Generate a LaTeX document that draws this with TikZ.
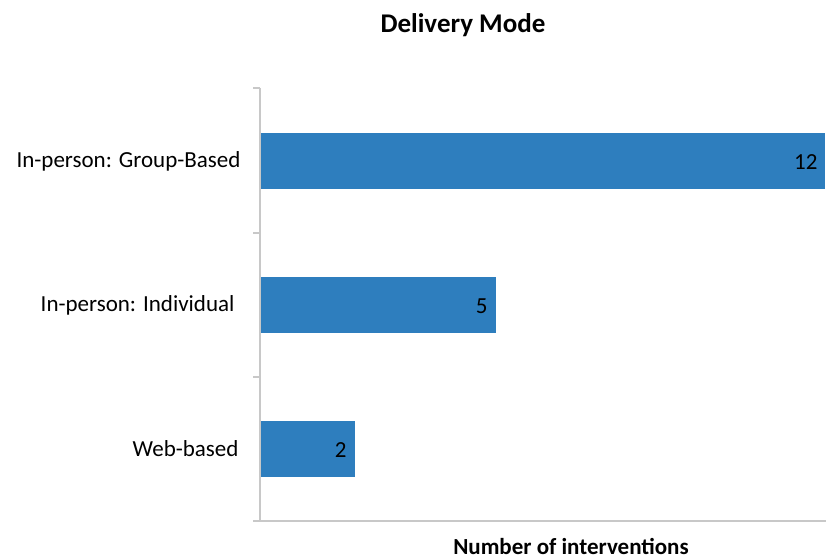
\documentclass[tikz,border=0pt]{standalone}
\usepackage{fontspec}
\setmainfont{Carlito}
\usetikzlibrary{positioning}
\definecolor{barblue}{RGB}{46,126,190}
\definecolor{axisgray}{RGB}{200,200,200}

\begin{document}
\begin{tikzpicture}[x=1pt,y=-1pt, every node/.style={font=\fontsize{23}{27}\selectfont},
  bar/.style={fill=barblue,draw=none},
  axis/.style={draw=axisgray,line width=1.5pt}]
\useasboundingbox (0,0) rectangle (835,559);
\node[font=\fontsize{27}{32}\selectfont\bfseries] (title) at (463,25) {Delivery Mode};
% axes
\coordinate (top) at (260,88);
\coordinate (origin) at (260,521);
\coordinate (xend) at (826,521);
\draw[axis] (top) -- (origin) -- (xend);
\foreach \t in {88,233,377,521}
  \draw[axis] (253,\t) -- (260,\t);
% bars
\fill[bar] (261,133) rectangle (825,189);
\fill[bar] (261,277) rectangle (496,333);
\fill[bar] (261,421) rectangle (355,477);
\node[anchor=east] (v1) at (821,162) {12};
\node[anchor=east] (v2) at (491,306) {5};
\node[anchor=east] (v3) at (350,450) {2};
% category labels
\node[anchor=east] (c1) at (244,161) {In-person: Group-Based};
\node[anchor=east] (c2) at (238,305) {In-person: Individual};
\node[anchor=east] (c3) at (242,449) {Web-based};
\node[font=\fontsize{23}{27}\selectfont\bfseries,anchor=base] (xlabel) at (571,554) {Number of interventions};
\end{tikzpicture}
\end{document}
